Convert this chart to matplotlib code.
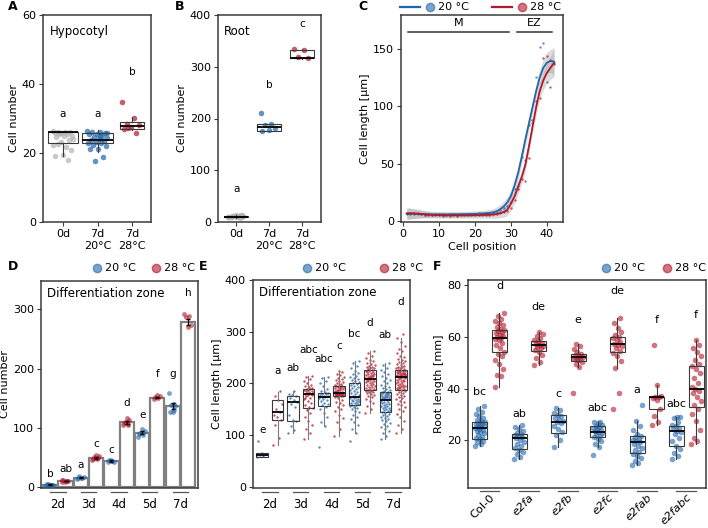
import numpy as np
import matplotlib
matplotlib.use('Agg')
import matplotlib.pyplot as plt
from matplotlib.lines import Line2D
from matplotlib import transforms

BLUE = '#2166ac'
RED = '#b2182b'
GREY = '#b3b3b3'
W, H = 708, 528

plt.rcParams['font.family'] = 'DejaVu Sans'
plt.rcParams['font.size'] = 8

# ---------------- data ----------------
# A: hypocotyl cell number
hyp_labels = ['0d', '7d\n20°C', '7d\n28°C']
hyp_0d = [26.3, 26.1, 26.0, 26.0, 25.9, 25.7, 25.6, 25.4, 25.0, 24.8, 24.5, 23.7, 23.2, 22.3,
          21.8, 22.6, 20.8, 19.5, 19.1, 18.1, 25.8, 24.2]
hyp_7d20 = [26.4, 26.2, 26.0, 25.9, 25.6, 25.4, 25.0, 24.6, 24.3, 24.0, 23.8, 23.5, 23.2, 23.0,
            22.8, 22.3, 21.9, 21.3, 21.1, 18.9, 17.7, 25.8, 24.8]
hyp_7d28 = [34.8, 30.2, 28.5, 28.0, 27.5, 27.0, 25.8, 27.3]
hyp_box = [(22.8, 26.0, 26.0, 19.0, 26.2), (22.9, 23.9, 25.8, 20.3, 26.7), (27.0, 27.9, 28.9, 26.8, 30.3)]
hyp_letters = ['a', 'a', 'b']
hyp_letter_y = [30.5, 30.5, 42.6]

# B: root cell number
root_0d = [10, 11, 12, 9, 13, 10, 8, 11, 12, 10, 9, 14, 11, 10, 12, 9, 13, 11]
root_7d20 = [210, 190, 187, 182, 178, 176]
root_7d28 = [335, 333, 318, 316]
root_box = [(9.5, 10.5, 12, 8, 14), (176, 184, 189, 175, 190), (316, 316.5, 333, 315, 335)]
root_letters = ['a', 'b', 'c']
root_letter_y = [58, 258, 376]

# C: cell length along the root
cell_pos = np.arange(1, 43)
fit_20 = [6.5, 6.6, 6.6, 6.5, 6.4, 6.3, 6.2, 6.1, 6.1, 6.1, 6.1, 6.1, 6.1, 6.2, 6.2, 6.3, 6.3,
          6.4, 6.5, 6.6, 6.7, 6.9, 7.1, 7.4, 7.8, 8.8, 10.5, 13.0, 16.5, 22.0, 31.0, 42.0, 56.0,
          71.0, 85.0, 99.0, 113.0, 125.0, 133.5, 138.0, 139.5, 139.0]
fit_28 = [7.0, 7.1, 7.0, 6.8, 6.5, 6.2, 5.9, 5.7, 5.5, 5.4, 5.3, 5.3, 5.3, 5.3, 5.3, 5.3, 5.3,
          5.3, 5.4, 5.4, 5.5, 5.6, 5.7, 5.8, 6.0, 6.5, 7.2, 8.2, 10.0, 15.5, 21.5, 30.0, 38.5,
          49.0, 65.0, 82.0, 99.0, 113.0, 122.5, 129.0, 133.5, 138.0]
band_half = [5.0, 4.6, 4.2, 3.8, 3.4, 3.0, 2.8, 2.6, 2.5, 2.5, 2.5, 2.5, 2.5, 2.5, 2.5, 2.5, 2.5,
             2.5, 2.5, 2.5, 2.6, 2.7, 2.8, 3.0, 3.3, 3.6, 4.0, 4.5, 5.0, 5.5, 6.0, 6.0, 6.0,
             6.0, 6.0, 6.0, 6.5, 7.0, 8.0, 9.0, 10.0, 12.0]
pts_20 = [6.8, 6.4, 6.9, 6.2, 6.6, 6.0, 6.4, 5.9, 6.3, 6.1, 6.5, 5.8, 6.2, 6.6, 6.0, 6.4, 6.8,
          6.2, 6.7, 6.4, 7.0, 6.6, 7.3, 7.0, 8.0, 8.5, 10.2, 12.0, 13.0, 16.5, 28.0, 31.0, 56.0,
          53.0, 84.0, 86.0, 126.0, 152.0, 155.0, 121.0, 140.0, 138.0]
pts_28 = [7.4, 7.0, 6.6, 7.1, 6.3, 5.8, 5.6, 5.9, 5.2, 5.6, 5.0, 5.5, 5.1, 5.4, 5.0, 5.6, 5.2,
          5.5, 5.3, 5.7, 5.2, 5.8, 5.5, 6.0, 6.2, 6.8, 7.0, 8.0, 9.5, 12.0, 18.5, 28.0, 37.0,
          35.0, 55.0, 88.5, 105.0, 107.0, 142.0, 144.0, 117.0, 137.0]

# D: differentiation zone cell number (bars, order 2d..7d, 20 / 28 °C alternating)
day_labels = ['2d', '3d', '4d', '5d', '7d']
dz_mean = [4, 10, 16, 49, 44, 109, 92, 151, 137, 278]
dz_sem = [0.5, 0.5, 1, 1.5, 1, 2, 2.5, 1.5, 5, 5]
dz_pts = [
    [3, 4, 5, 4, 3, 5, 4],
    [9, 10, 11, 10, 9, 11, 10],
    [14, 16, 18, 17, 15, 16],
    [46, 48, 50, 52, 54, 47, 49],
    [42, 44, 45, 43, 46],
    [104, 106, 110, 113, 116, 108, 105],
    [84, 88, 92, 95, 98, 90],
    [148, 150, 152, 154, 155],
    [158, 140, 138, 137, 127, 126, 130],
    [292, 289, 287, 273, 270],
]
dz_letters = ['b', 'ab', 'a', 'c', 'c', 'd', 'e', 'f', 'g', 'h']
dz_letter_y = [17, 25, 32, 67, 58, 137, 116, 185, 186, 322]

# E: differentiation zone cell length
len_pts = [
    [58, 60, 62, 63, 65, 88],
    [82, 95, 120, 130, 135, 140, 145, 150, 160, 168, 175, 185],
    [104, 110, 118, 128, 130, 140, 155, 160, 165, 168, 172, 176, 178, 180, 185],
    [92, 105, 112, 120, 128, 135, 142, 148, 152, 155, 158, 162, 166, 170, 172, 175, 177, 178,
     179, 180, 181, 182, 184, 185, 186, 187, 188, 189, 190, 191, 193, 195, 198, 200, 204, 208,
     212, 214, 150, 172],
    [78, 117, 125, 135, 142, 150, 155, 158, 160, 163, 166, 168, 170, 172, 173, 174, 175, 176,
     178, 179, 180, 182, 184, 186, 190, 195, 200, 205, 210, 212],
    [99, 112, 125, 133, 140, 146, 150, 155, 158, 162, 165, 168, 171, 173, 175, 176, 176, 177,
     177, 178, 178, 178, 179, 179, 180, 180, 180, 181, 181, 181, 182, 183, 184, 185, 186, 187,
     188, 189, 190, 191, 192, 193, 194, 194, 195, 196, 197, 198, 199, 200, 202, 204, 206, 208,
     210, 213, 216, 219, 222, 224],
    [88, 104, 112, 120, 126, 131, 136, 140, 144, 147, 150, 153, 155, 157, 158, 159, 161, 162,
     163, 165, 166, 167, 168, 169, 170, 171, 172, 173, 175, 177, 179, 181, 183, 185, 187, 189,
     191, 193, 195, 197, 199, 201, 203, 205, 207, 209, 211, 213, 215, 218, 221, 225, 229, 234,
     239, 244],
    [142, 150, 157, 162, 166, 170, 173, 176, 178, 180, 182, 183, 184, 185, 186, 187, 189, 190,
     191, 193, 194, 195, 197, 198, 199, 201, 202, 203, 204, 205, 206, 207, 209, 210, 211, 212,
     213, 214, 215, 216, 217, 218, 219, 220, 222, 223, 224, 225, 227, 228, 229, 230, 231, 232,
     234, 236, 238, 240, 243, 246, 250, 254, 258, 262],
    [92, 98, 104, 108, 112, 115, 118, 121, 124, 127, 129, 131, 133, 135, 137, 139, 141, 143,
     145, 146, 148, 149, 151, 152, 153, 155, 156, 157, 159, 160, 161, 163, 164, 165, 167, 168,
     170, 171, 172, 172, 173, 174, 175, 176, 176, 177, 178, 179, 180, 181, 181, 182, 183, 184,
     185, 187, 189, 191, 193, 195, 198, 201, 204, 207, 210, 214, 218, 222, 226, 230, 235, 240],
    [105, 112, 120, 128, 135, 141, 146, 150, 154, 158, 161, 164, 167, 170, 172, 174, 176, 178,
     180, 182, 184, 186, 188, 189, 190, 191, 192, 193, 194, 195, 196, 197, 198, 199, 200, 201,
     202, 204, 205, 206, 207, 209, 210, 211, 212, 213, 213, 214, 215, 215, 216, 217, 217, 218,
     219, 219, 220, 221, 221, 222, 223, 224, 224, 225, 226, 227, 228, 229, 230, 231, 232, 234,
     235, 237, 239, 241, 243, 245, 248, 251, 254, 258, 262, 267, 273, 280, 287, 295],
]
len_box = [(58, 61, 65, 57, 66), (129, 144, 168, 81, 183), (128, 165, 176, 104, 185),
           (152, 180, 190, 92, 214), (157, 173, 182, 117, 212), (176, 181, 195, 99, 224),
           (158, 174, 201, 104, 244), (188, 208, 226, 142, 262), (144, 169, 184, 92, 240),
           (187, 212, 227, 105, 287)]
len_letters = ['e', 'a', 'ab', 'abc', 'abc', 'c', 'bc', 'd', 'ab', 'd']
len_letter_y = [104, 219, 224, 258, 242, 266, 290, 312, 288, 352]

# F: root length of e2f mutants
genotypes = ['Col-0', 'e2fa', 'e2fb', 'e2fc', 'e2fab', 'e2fabc']
rl_pts = [
    [17.9, 18.5, 19.2, 19.8, 20.3, 20.8, 21.4, 22.0, 22.6, 23.1, 23.6, 24.0, 24.4, 24.8, 25.0,
     25.3, 25.6, 25.9, 26.2, 26.5, 26.8, 27.1, 27.5, 28.0, 28.6, 29.3, 30.1, 31.0, 32.2, 33.2],
    [40.5, 44.8, 45.3, 47.5, 49.6, 51.2, 52.5, 53.5, 54.2, 55.6, 56.8, 57.8, 58.6, 59.2, 59.6,
     60.0, 60.4, 60.9, 61.4, 61.9, 62.3, 62.7, 63.2, 63.9, 64.6, 65.3, 66.2, 67.0, 68.0, 69.1],
    [12.6, 13.4, 14.5, 15.3, 16.2, 16.8, 17.6, 18.5, 19.4, 20.2, 20.7, 21.1, 21.5, 21.9, 22.3,
     22.8, 23.5, 24.2, 25.0, 25.9],
    [49.1, 50.3, 51.8, 53.0, 54.2, 54.8, 55.5, 56.1, 56.6, 56.9, 57.3, 57.8, 58.2, 58.6, 59.4,
     60.2, 61.0, 61.7],
    [17.2, 20.1, 22.0, 23.2, 24.5, 25.6, 26.6, 27.1, 27.4, 28.0, 28.6, 29.2, 29.7, 30.5, 31.5, 32.6],
    [38.1, 48.4, 49.5, 50.4, 50.9, 51.4, 51.8, 52.0, 52.2, 52.5, 52.9, 53.2, 54.0, 55.3, 56.5, 57.2],
    [14.3, 17.2, 18.5, 19.6, 20.5, 21.2, 21.8, 22.4, 22.9, 23.3, 23.6, 24.0, 24.4, 24.9, 25.3,
     25.6, 26.0, 26.5, 26.9, 27.2],
    [32.2, 38.1, 47.8, 50.5, 52.4, 53.8, 54.6, 55.5, 56.4, 57.0, 57.4, 58.0, 58.8, 59.5, 60.0,
     60.6, 61.8, 63.5, 65.2, 67.2],
    [10.4, 11.2, 12.0, 13.0, 13.8, 14.6, 15.4, 16.2, 17.0, 17.8, 18.6, 19.2, 19.6, 20.1, 20.6,
     21.1, 21.6, 22.5, 23.8, 25.5, 27.4, 33.6],
    [25.9, 27.2, 29.5, 32.0, 35.5, 36.4, 36.6, 36.8, 37.0, 41.4, 56.8],
    [12.6, 13.8, 15.2, 16.5, 17.8, 19.5, 21.0, 22.4, 23.3, 23.7, 24.2, 24.8, 25.4, 26.0, 27.2,
     28.5, 29.1, 29.1],
    [18.5, 19.5, 21.0, 24.0, 27.5, 30.0, 32.0, 33.5, 35.0, 36.8, 38.2, 39.2, 39.8, 40.5, 42.0,
     44.0, 46.0, 47.5, 48.6, 49.5, 51.0, 52.5, 54.0, 55.5, 57.0, 58.8],
]
rl_box = [(20.3, 24.8, 27.2, 17.9, 33.2), (54.0, 59.5, 62.6, 40.5, 69.1),
          (16.6, 20.7, 22.4, 12.6, 25.9), (54.5, 56.7, 58.5, 49.1, 61.7),
          (22.6, 27.2, 29.7, 17.2, 32.6), (50.7, 52.1, 53.2, 48.4, 57.2),
          (21.3, 23.3, 25.5, 17.2, 27.2), (54.0, 57.2, 60.1, 47.8, 67.2),
          (14.9, 19.2, 21.6, 10.4, 27.4), (31.9, 36.6, 36.8, 25.9, 41.4),
          (17.7, 23.5, 25.6, 12.6, 29.1), (32.7, 39.8, 48.8, 18.5, 58.8)]
rl_letters = ['bc', 'd', 'ab', 'de', 'c', 'e', 'abc', 'de', 'a', 'f', 'abc', 'f']
rl_letter_y = [37.5, 78.5, 29.1, 70.4, 36.6, 65.2, 31.4, 76.5, 38.1, 65.2, 32.9, 67.2]


# ---------------- helpers ----------------
def rect(l, t, r, b):
    return [l / W, 1 - b / H, (r - l) / W, (b - t) / H]


def jitter(n, width):
    # even spread with golden ratio steps, not random
    return ((np.arange(n) * 0.618034) % 1.0 - 0.5) * width


def style(ax):
    for s in ax.spines.values():
        s.set_color('#3a3a3a')
        s.set_linewidth(1.1)
    ax.tick_params(length=3, width=0.8, color='#3a3a3a', labelsize=8, pad=2)


def draw_boxes(ax, pos, stats, widths, lw=0.8, wcolor='#3a3a3a'):
    bx = [dict(q1=s[0], med=s[1], q3=s[2], whislo=s[3], whishi=s[4], fliers=[]) for s in stats]
    ax.bxp(bx, positions=pos, widths=widths, showfliers=False, showcaps=False,
           patch_artist=True, manage_ticks=False,
           boxprops=dict(facecolor='none', edgecolor='#3a3a3a', linewidth=lw),
           medianprops=dict(color='black', linewidth=1.3),
           whiskerprops=dict(color=wcolor, linewidth=lw), zorder=4)


def group_ticks(ax, labels, y=-0.02, rot=0):
    tr = transforms.blended_transform_factory(ax.transData, ax.transAxes)
    for i in range(len(labels)):
        ax.plot([2 * i, 2 * i + 1], [y, y], transform=tr, color='#555555', lw=0.9, clip_on=False)
    ax.set_xticks([2 * i + 0.5 for i in range(len(labels))])
    if rot:
        ax.set_xticklabels(labels, rotation=rot, ha='right', va='top', rotation_mode='anchor', fontsize=8.2)
        for t in ax.get_xticklabels()[1:]:
            t.set_fontstyle('italic')
        ax.tick_params(axis='x', length=0, pad=3)
    else:
        ax.set_xticklabels(labels, fontsize=8.5)
        ax.tick_params(axis='x', length=0, pad=7)


def dot_key(fig, x, y, color, text, line=False):
    if line:
        fig.add_artist(Line2D([(x - 30) / W, (x - 10) / W], [1 - y / H] * 2, color=color, lw=1.6,
                              transform=fig.transFigure))
    fig.add_artist(Line2D([x / W], [1 - y / H], marker='o', ms=6, color=color, alpha=0.6, lw=0,
                          transform=fig.transFigure))
    fig.text((x + 8) / W, 1 - y / H, text, va='center', ha='left', fontsize=8)


fig = plt.figure(figsize=(7.08, 5.28), dpi=100)

# ---------------- A ----------------
ax = fig.add_axes(rect(43, 15, 151, 222))
style(ax)
for i, (vals, c) in enumerate(zip([hyp_0d, hyp_7d20, hyp_7d28], [GREY, BLUE, RED])):
    ax.scatter(i + 1 + jitter(len(vals), 0.6), vals, s=16, color=c, alpha=0.7, lw=0, zorder=2)
draw_boxes(ax, [1, 2, 3], hyp_box, [0.88, 0.9, 0.72])
for i, (l, y) in enumerate(zip(hyp_letters, hyp_letter_y)):
    ax.text(i + 1, y, l, ha='center', fontsize=7.5)
ax.set_xlim(0.42, 3.55)
ax.set_ylim(0, 60)
ax.set_yticks([0, 20, 40, 60])
ax.set_xticks([1, 2, 3])
ax.set_xticklabels(hyp_labels)
ax.set_ylabel('Cell number', fontsize=8, labelpad=2)
ax.text(0.06, 0.95, 'Hypocotyl', transform=ax.transAxes, va='top', fontsize=8.5)

# ---------------- B ----------------
ax = fig.add_axes(rect(218, 15, 321, 222))
style(ax)
for i, (vals, c) in enumerate(zip([root_0d, root_7d20, root_7d28], [GREY, BLUE, RED])):
    ax.scatter(i + 1 + jitter(len(vals), 0.5), vals, s=16, color=c, alpha=0.7, lw=0, zorder=2)
draw_boxes(ax, [1, 2, 3], root_box, [0.73, 0.73, 0.75])
for i, (l, y) in enumerate(zip(root_letters, root_letter_y)):
    ax.text(i + 1, y, l, ha='center', fontsize=7.5)
ax.set_xlim(0.45, 3.58)
ax.set_ylim(0, 400)
ax.set_yticks([0, 100, 200, 300, 400])
ax.set_xticks([1, 2, 3])
ax.set_xticklabels(hyp_labels)
ax.set_ylabel('Cell number', fontsize=8, labelpad=2)
ax.text(0.06, 0.95, 'Root', transform=ax.transAxes, va='top', fontsize=8.5)

# ---------------- C ----------------
ax = fig.add_axes(rect(401, 15, 563, 222))
style(ax)
for fit in (fit_20, fit_28):
    f = np.array(fit)
    hb = np.array(band_half)
    ax.fill_between(cell_pos, f - hb, f + hb, color='#9a9a9a', alpha=0.35, lw=0)
ax.scatter(cell_pos, pts_20, s=3, color=BLUE, alpha=0.7, lw=0, zorder=3)
ax.scatter(cell_pos, pts_28, s=3, color=RED, alpha=0.7, lw=0, zorder=3)
ax.plot(cell_pos, fit_20, color=BLUE, lw=1.3, zorder=4)
ax.plot(cell_pos, fit_28, color=RED, lw=1.3, zorder=4)
ax.plot([1.4, 29.4], [165, 165], color='#333333', lw=1.1)
ax.plot([31.7, 41.4], [165, 165], color='#333333', lw=1.1)
ax.text(15.4, 168, 'M', ha='center', va='bottom', fontsize=8)
ax.text(36.5, 168, 'EZ', ha='center', va='bottom', fontsize=8)
ax.set_xlim(-0.6, 44.5)
ax.set_ylim(-0.5, 179.5)
ax.set_yticks([0, 50, 100, 150])
ax.set_xticks([0, 10, 20, 30, 40])
ax.set_xlabel('Cell position', fontsize=8, labelpad=2)
ax.set_ylabel('Cell length [µm]', fontsize=8, labelpad=2)
dot_key(fig, 430, 7, BLUE, '20 °C', line=True)
dot_key(fig, 522, 7, RED, '28 °C', line=True)

# ---------------- D ----------------
ax = fig.add_axes(rect(41, 281, 198, 488))
style(ax)
xpos = np.arange(10)
cols = [BLUE, RED] * 5
ax.bar(xpos, dz_mean, width=0.92, color='white', edgecolor='#808080', lw=1.6, zorder=1)
for i, vals in enumerate(dz_pts):
    ax.scatter(i + jitter(len(vals), 0.5), vals, s=12, color=cols[i], alpha=0.6, lw=0, zorder=3)
ax.errorbar(xpos, dz_mean, yerr=dz_sem, fmt='none', ecolor='black', elinewidth=0.9, capsize=1.5, zorder=4)
for i, (l, y) in enumerate(zip(dz_letters, dz_letter_y)):
    ax.text(i, y, l, ha='center', fontsize=7.5)
ax.set_xlim(-0.6, 9.65)
ax.set_ylim(-1.7, 348)
ax.set_yticks([0, 100, 200, 300])
group_ticks(ax, day_labels)
ax.set_ylabel('Cell number', fontsize=8, labelpad=2)
ax.text(0.04, 0.97, 'Differentiation zone', transform=ax.transAxes, va='top', fontsize=8.5)
dot_key(fig, 97, 268, BLUE, '20 °C')
dot_key(fig, 156, 268, RED, '28 °C')

# ---------------- E ----------------
ax = fig.add_axes(rect(253, 280, 410, 488))
style(ax)
for i, vals in enumerate(len_pts):
    ax.scatter(i + jitter(len(vals), 0.62), vals, s=3, color=cols[i], alpha=0.75, lw=0, zorder=2)
draw_boxes(ax, xpos, len_box, 0.75, lw=0.8, wcolor='#7a7a7a')
for i, (l, y) in enumerate(zip(len_letters, len_letter_y)):
    ax.text(i, y, l, ha='center', fontsize=7.5)
ax.set_xlim(-0.6, 9.6)
ax.set_ylim(-2, 399)
ax.set_yticks([0, 100, 200, 300, 400])
group_ticks(ax, day_labels)
ax.set_ylabel('Cell length [µm]', fontsize=8, labelpad=2)
ax.text(0.04, 0.97, 'Differentiation zone', transform=ax.transAxes, va='top', fontsize=8.5)
dot_key(fig, 307, 268, BLUE, '20 °C')
dot_key(fig, 384, 268, RED, '28 °C')

# ---------------- F ----------------
ax = fig.add_axes(rect(468, 280, 706, 488))
style(ax)
fpos = np.arange(12)
fcols = [BLUE, RED] * 6
for i, vals in enumerate(rl_pts):
    ax.scatter(i + jitter(len(vals), 0.5), vals, s=16, color=fcols[i], alpha=0.6, lw=0, zorder=2)
draw_boxes(ax, fpos, rl_box, 0.76)
for i, (l, y) in enumerate(zip(rl_letters, rl_letter_y)):
    ax.text(i, y, l, ha='center', fontsize=8)
ax.set_xlim(-0.6, 11.5)
ax.set_ylim(1.5, 82)
ax.set_yticks([20, 40, 60, 80])
group_ticks(ax, genotypes, y=-0.015, rot=45)
ax.set_ylabel('Root length [mm]', fontsize=8, labelpad=2)
dot_key(fig, 606, 268, BLUE, '20 °C')
dot_key(fig, 667, 268, RED, '28 °C')

# panel letters
for l, x, y in [('A', 13, 7), ('B', 180, 7), ('C', 363, 7), ('D', 13, 267), ('E', 203, 267), ('F', 437, 267)]:
    fig.text(x / W, 1 - y / H, l, fontsize=9, fontweight='bold', ha='center', va='center')

fig.savefig('out.png', dpi=100)
